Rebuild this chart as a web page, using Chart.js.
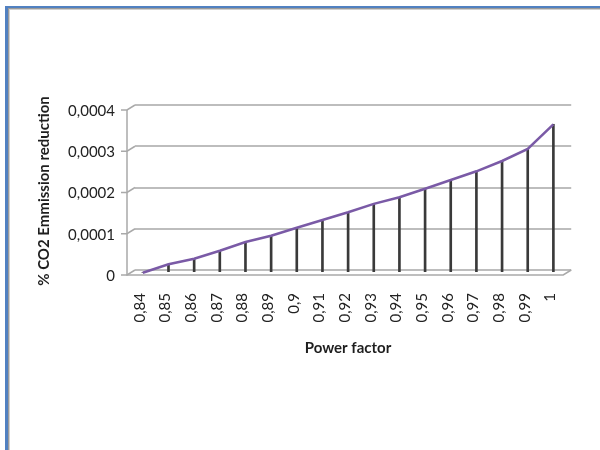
<!DOCTYPE html>
<html>
<head>
<meta charset="utf-8">
<script src="https://cdn.jsdelivr.net/npm/chart.js@4.4.1/dist/chart.umd.min.js"></script>
<style>
  html, body { margin: 0; padding: 0; background: #ffffff; }
  #wrap { width: 600px; height: 450px; position: relative; }
</style>
</head>
<body>
<div id="wrap"><canvas id="chart" width="600" height="450"></canvas></div>
<script>
// Power factor categories
const powerFactors = ['0,84','0,85','0,86','0,87','0,88','0,89','0,9','0,91','0,92','0,93',
                      '0,94','0,95','0,96','0,97','0,98','0,99','1'];
// % CO2 emission reduction for each power factor
const co2Reduction = [0, 0.0000204, 0.000034, 0.0000533, 0.0000744, 0.0000897, 0.000109,
                      0.0001277, 0.0001464, 0.0001668, 0.0001828, 0.0002036, 0.0002247,
                      0.0002458, 0.0002708, 0.0002999, 0.0003598];
// Value axis tick labels (decimal comma)
const yTickLabels = ['0', '0,0001', '0,0002', '0,0003', '0,0004'];

const yTitle = '% CO2 Emmission reduction';
const xTitle = 'Power factor';

const FONT = 'Lato, "Liberation Sans", sans-serif';
const DEPTH_X = 8, DEPTH_Y = 5;          // oblique depth of the 3-D walls
const SERIES_DX = -5, SERIES_DY = 2.7;   // series sits midway in depth

// Window frame around the chart
const framePlugin = {
  id: 'frame',
  beforeDraw(chart) {
    const ctx = chart.ctx;
    ctx.save();
    ctx.fillStyle = '#ffffff';
    ctx.fillRect(0, 0, 600, 450);
    ctx.fillStyle = '#5181c1';
    ctx.fillRect(5, 6, 595, 2);
    ctx.fillRect(5, 6, 3, 444);
    ctx.fillStyle = '#9a9a9a';
    ctx.fillRect(8, 8, 592, 1);
    ctx.fillRect(8, 8, 1, 442);
    ctx.fillStyle = '#d0d0d0';
    ctx.fillRect(9, 9, 591, 1);
    ctx.fillRect(9, 9, 1, 441);
    ctx.restore();
  }
};

// Front axis, floor and depth connectors of the 3-D box
const boxPlugin = {
  id: 'box3d',
  beforeDatasetsDraw(chart) {
    const ctx = chart.ctx;
    const area = chart.chartArea;
    const y = chart.scales.y;
    const fx = area.left - DEPTH_X;
    ctx.save();
    ctx.strokeStyle = '#a9a9a9';
    ctx.lineWidth = 1.5;
    ctx.beginPath();
    // front value axis
    ctx.moveTo(fx, y.getPixelForValue(0.0004) + DEPTH_Y);
    ctx.lineTo(fx, area.bottom + DEPTH_Y);
    // floor front edge and right side
    ctx.lineTo(area.right - DEPTH_X, area.bottom + DEPTH_Y);
    ctx.lineTo(area.right, area.bottom);
    ctx.stroke();
    ctx.beginPath();
    y.ticks.forEach(t => {
      const py = y.getPixelForValue(t.value);
      ctx.moveTo(fx - 6, py + DEPTH_Y);
      ctx.lineTo(fx, py + DEPTH_Y);
      ctx.lineTo(area.left, py);
    });
    ctx.stroke();
    ctx.restore();
    // shift the series to mid depth
    ctx.save();
    ctx.translate(SERIES_DX, SERIES_DY);
  },
  afterDatasetsDraw(chart) {
    chart.ctx.restore();
  },
  afterDraw(chart) {
    const ctx = chart.ctx;
    ctx.save();
    ctx.fillStyle = '#1e1e1e';
    ctx.font = 'bold 15px ' + FONT;
    ctx.textAlign = 'center';
    ctx.textBaseline = 'middle';
    ctx.fillText(xTitle, 348, 348);
    ctx.translate(44, 191);
    ctx.rotate(-Math.PI / 2);
    ctx.fillText(yTitle, 0, 0);
    ctx.restore();
  }
};

new Chart(document.getElementById('chart'), {
  data: {
    labels: powerFactors,
    datasets: [
      {
        type: 'line',
        data: co2Reduction,
        borderColor: '#7a5aa6',
        borderWidth: 2.5,
        pointRadius: 0,
        tension: 0,
        clip: false,
        order: 0
      },
      {
        type: 'bar',
        data: co2Reduction,
        backgroundColor: '#3a3a3a',
        barThickness: 2,
        clip: false,
        order: 1
      }
    ]
  },
  options: {
    responsive: false,
    devicePixelRatio: 1,
    animation: false,
    layout: { padding: { left: 0, top: 105, right: 21, bottom: 0 } },
    plugins: { legend: { display: false }, tooltip: { enabled: false }, title: { display: false } },
    scales: {
      x: {
        offset: true,
        grid: { display: false, drawTicks: false },
        border: { display: false },
        ticks: {
          autoSkip: false,
          minRotation: 90,
          maxRotation: 90,
          padding: 23,
          labelOffset: -8,
          color: '#222222',
          font: { family: FONT, size: 15 }
        },
        afterFit(scale) { scale.height = 180; }
      },
      y: {
        min: 0,
        max: 0.0004,
        grid: { color: '#bdbdbd', lineWidth: 2, drawTicks: false },
        border: { display: false },
        ticks: {
          stepSize: 0.0001,
          padding: 20,
          labelOffset: 6,
          color: '#222222',
          font: { family: FONT, size: 15 },
          callback: (v, i) => yTickLabels[i]
        },
        afterFit(scale) { scale.width = 135; }
      }
    }
  },
  plugins: [framePlugin, boxPlugin]
});
</script>
</body>
</html>
